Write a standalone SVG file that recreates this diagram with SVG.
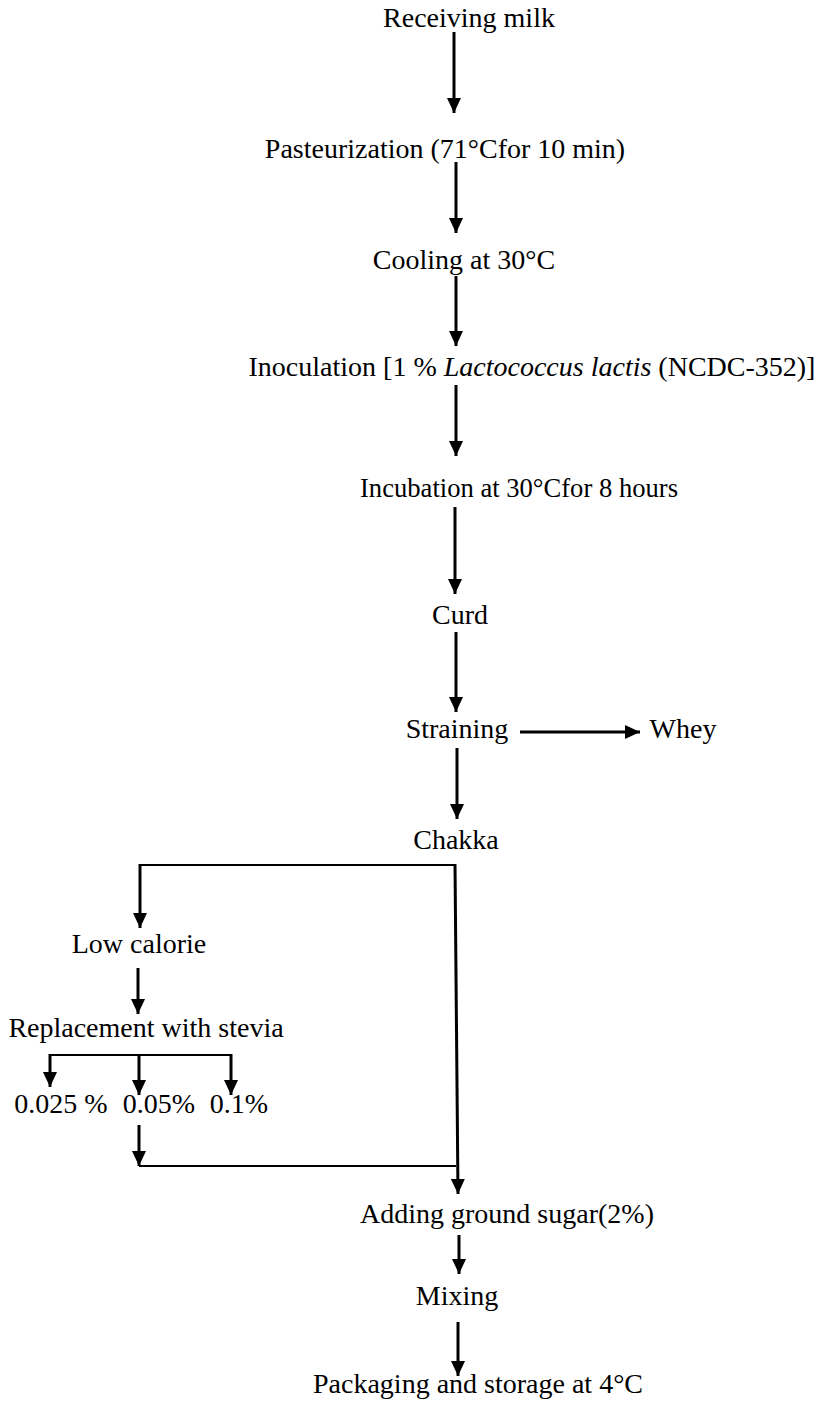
<svg xmlns="http://www.w3.org/2000/svg" width="819" height="1402" viewBox="0 0 819 1402">
<defs>
<marker id="ah" markerUnits="userSpaceOnUse" markerWidth="16" markerHeight="14" refX="15" refY="7" orient="auto">
<path d="M0,0 L15,7 L0,14 Z" fill="#000"/>
</marker>
<style>
.c{stroke:#000;stroke-width:3;fill:none}
.a{marker-end:url(#ah)}
.t{stroke-width:2}
</style>
</defs>
<rect width="819" height="1402" fill="#fff"/>
<g font-family="'Liberation Serif', 'Times New Roman', Times, serif" font-size="28" fill="#000" text-anchor="middle">
<g id="n1"><text x="469" y="27">Receiving milk</text></g>
<g id="n2"><text x="445" y="158">Pasteurization (71°Cfor 10 min)</text></g>
<g id="n3"><text x="464" y="269">Cooling at 30°C</text></g>
<g id="n4"><text x="532" y="376">Inoculation [1 % <tspan font-style="italic">Lactococcus lactis</tspan> (NCDC-352)]</text></g>
<g id="n5"><text x="519" y="497" textLength="318" lengthAdjust="spacingAndGlyphs">Incubation at 30°Cfor 8 hours</text></g>
<g id="n6"><text x="460" y="624">Curd</text></g>
<g id="n7"><text x="457" y="738">Straining</text></g>
<g id="n8"><text x="683" y="738">Whey</text></g>
<g id="n9"><text x="456" y="849">Chakka</text></g>
<g id="n10"><text x="139" y="953">Low calorie</text></g>
<g id="n11"><text x="146" y="1037">Replacement with stevia</text></g>
<g id="n12"><text x="61" y="1113">0.025 %</text></g>
<g id="n13"><text x="159" y="1113">0.05%</text></g>
<g id="n14"><text x="239" y="1113">0.1%</text></g>
<g id="n15"><text x="507" y="1223">Adding ground sugar(2%)</text></g>
<g id="n16"><text x="457" y="1305">Mixing</text></g>
<g id="n17"><text x="478" y="1393">Packaging and storage at 4°C</text></g>
</g>
<g id="connectors">
<line class="c a" x1="454" y1="32" x2="454" y2="113"/>
<line class="c a" x1="456" y1="162" x2="456" y2="233"/>
<line class="c a" x1="456" y1="276" x2="456" y2="346"/>
<line class="c a" x1="456" y1="385" x2="456" y2="456"/>
<line class="c a" x1="455" y1="507" x2="455" y2="594"/>
<line class="c a" x1="456" y1="632" x2="456" y2="712"/>
<line class="c a" x1="520" y1="732" x2="640" y2="732"/>
<line class="c a" x1="457" y1="748" x2="457" y2="819"/>
<polyline class="c t" points="455,865 140,865"/>
<line class="c a" x1="140" y1="864" x2="140" y2="928"/>
<line class="c a" x1="455" y1="864" x2="458" y2="1194"/>
<line class="c a" x1="138" y1="968" x2="138" y2="1014"/>
<polyline class="c t" points="50,1055 232,1055"/>
<line class="c a" x1="50" y1="1054" x2="50" y2="1087"/>
<line class="c a" x1="139" y1="1054" x2="139" y2="1095"/>
<line class="c a" x1="231" y1="1054" x2="231" y2="1095"/>
<line class="c a" x1="139" y1="1125" x2="139" y2="1166"/>
<polyline class="c t" points="139,1166 456,1166"/>
<line class="c a" x1="459" y1="1235" x2="459" y2="1274"/>
<line class="c a" x1="458" y1="1322" x2="458" y2="1376"/>
</g>
</svg>
